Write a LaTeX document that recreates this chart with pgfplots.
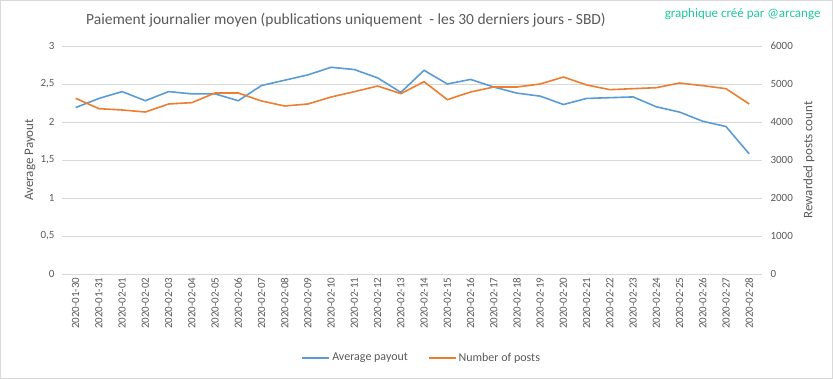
\documentclass[border=0pt]{standalone}
\usepackage{pgfplots}
\pgfplotsset{compat=1.18}
\usepackage{pgfplotstable}
\usepackage{fontspec}
\setmainfont{Carlito}
\definecolor{cblue}{HTML}{5B9BD5}
\definecolor{corange}{HTML}{ED7D31}
\definecolor{cgrid}{HTML}{D9D9D9}
\definecolor{ctext}{HTML}{595959}
\definecolor{cgreen}{HTML}{1DC99A}
\pgfplotstableread{
x payout posts
0 2.19 4623
1 2.31 4351
2 2.40 4316
3 2.28 4263
4 2.40 4474
5 2.37 4509
6 2.37 4763
7 2.28 4763
8 2.48 4553
9 2.55 4421
10 2.62 4474
11 2.72 4658
12 2.69 4798
13 2.58 4947
14 2.39 4746
15 2.68 5061
16 2.50 4588
17 2.56 4789
18 2.46 4921
19 2.38 4921
20 2.34 5000
21 2.23 5184
22 2.31 4974
23 2.32 4851
24 2.33 4877
25 2.20 4903
26 2.13 5026
27 2.01 4956
28 1.94 4877
29 1.58 4474
}\datatab
\begin{document}
\begin{tikzpicture}[x=1pt,y=1pt]
\useasboundingbox (0,0) rectangle (833,379);
\draw[cgrid, line width=0.8pt] (0.5,0.5) rectangle (832.5,378.5);
\pgfplotsset{
  base/.style={
    scale only axis, width=700pt, height=228pt,
    at={(62pt,105pt)}, anchor=south west,
    xmin=-0.59, xmax=29.55,
    ymin=0,
    major tick length=0pt,
    tick label style={font=\fontsize{11}{12}\selectfont, text=ctext},
    /pgf/number format/assume math mode=true,
    /pgf/number format/use comma,
    /pgf/number format/1000 sep={},
    label style={font=\fontsize{13}{14}\selectfont, text=ctext},
  }
}
\begin{axis}[base,
  ymax=3, ytick={0,0.5,1,1.5,2,2.5,3},
  ymajorgrids, grid style={cgrid, line width=0.8pt},
  axis line style={draw=none},
  xtick={0,...,29},
  xticklabels={2020-01-30,2020-01-31,2020-02-01,2020-02-02,2020-02-03,2020-02-04,2020-02-05,2020-02-06,2020-02-07,2020-02-08,2020-02-09,2020-02-10,2020-02-11,2020-02-12,2020-02-13,2020-02-14,2020-02-15,2020-02-16,2020-02-17,2020-02-18,2020-02-19,2020-02-20,2020-02-21,2020-02-22,2020-02-23,2020-02-24,2020-02-25,2020-02-26,2020-02-27,2020-02-28},
  xticklabel style={rotate=90, anchor=east, xshift=0pt},
  yticklabel style={xshift=-4pt},
  ylabel={Average Payout},
  ylabel style={at={(axis description cs:-0.0457,0.5)}, anchor=center, rotate=0},
]
\addplot[cblue, line width=1.6pt] table[x=x, y=payout] {\datatab};
\end{axis}
\begin{axis}[base,
  ymax=6000, ytick={0,1000,...,6000},
  axis y line*=right, axis x line=none,
  y axis line style={draw=none},
  yticklabel style={anchor=west, xshift=5pt},
  ylabel={Rewarded posts count},
  ylabel style={at={(axis description cs:1.067,0.5)}, anchor=center, rotate=0},
  legend style={at={(0.514,-0.368)}, anchor=center, draw=none, fill=none,
    legend columns=2, font=\fontsize{12}{13}\selectfont, text=ctext,
    /tikz/every even column/.append style={column sep=18pt}},
  legend image code/.code={\draw[#1, line width=1.6pt] (0pt,0pt) -- (27pt,0pt);},
]
\addlegendimage{cblue}
\addlegendentry{Average payout}
\addplot[corange, line width=1.6pt] table[x=x, y=posts] {\datatab};
\addlegendentry{Number of posts}
\end{axis}
\node[text=ctext, font=\fontsize{15.5}{17}\selectfont] at (346,359) {Paiement journalier moyen (publications uniquement\ \ - les 30 derniers jours - SBD)};
\node[text=cgreen, font=\fontsize{13}{14}\selectfont, anchor=east] at (824,365) {graphique créé par @arcange};
\end{tikzpicture}
\end{document}
